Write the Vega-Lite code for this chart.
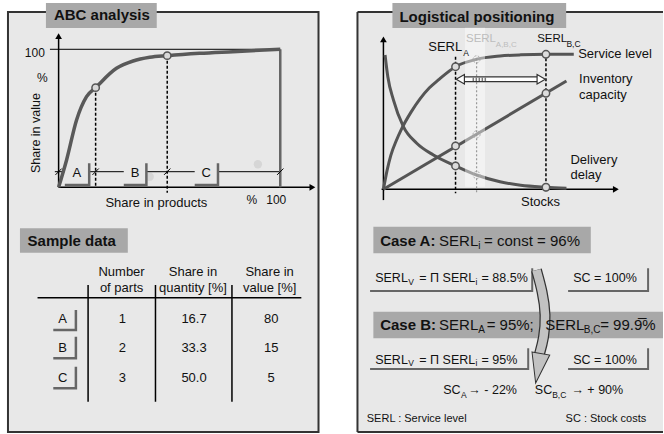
{
"$schema":"https://vega.github.io/schema/vega-lite/v6.json",
"width":664,"height":434,"autosize":{"type":"fit","contains":"padding"},"padding":0,"background":"white",
"resolve":{"scale":{"x":"independent","y":"independent"}},
"layer":[
{
"encoding":{
 "x":{"field":"x","type":"quantitative","scale":{"domain":[-26.44,272.66],"nice":false,"zero":false},"axis":null},
 "y":{"field":"y","type":"quantitative","scale":{"domain":[-178.77,135.72],"nice":false,"zero":false},"axis":null}
},
"layer":[
 {"data":{"values":[{"x":-22.84,"x2":117.25,"y":127.03,"y2":-177.32}]},"mark":{"type":"rect","fill":"#e8e8e8","stroke":"#333","strokeWidth":2},"encoding":{"x2":{"field":"x2"},"y2":{"field":"y2"}}},
 {"data":{"values":[{"x":-5.72,"x2":44.28,"y":133.55,"y2":115.43},{"x":-17.43,"x2":31.22,"y":-29.71,"y2":-47.39}]},"mark":{"type":"rect","fill":"#a8a8a8"},"encoding":{"x2":{"field":"x2"},"y2":{"field":"y2"}}},
 {"data":{"values":[{"x":41.1,"y":7.7},{"x":89.9,"y":16.7}]},"mark":{"type":"point","filled":true,"color":"#d6d6d6","size":70,"opacity":1}},
 {"data":{"values":[{"x":0,"y":0,"x2":0,"y2":109},{"x":0,"y":0,"x2":114,"y2":0},{"x":-9.5,"y":-80,"x2":109.5,"y2":-80},{"x":13.3,"y":-70.8,"x2":13.3,"y2":-155.4},{"x":43.7,"y":-70.8,"x2":43.7,"y2":-155.4},{"x":78.2,"y":-70.8,"x2":78.2,"y2":-155.4}]},"mark":{"type":"rule","color":"#000","strokeWidth":1.5},"encoding":{"x2":{"field":"x2"},"y2":{"field":"y2"}}},
 {"data":{"values":[{"x":-3.9,"y":100,"x2":100,"y2":100},{"x":-1.7,"y":11.3,"x2":2.8,"y2":11.3},{"x":13.8,"y":11.3,"x2":29.4,"y2":11.3},{"x":39.6,"y":11.3,"x2":61.4,"y2":11.3},{"x":71.9,"y":11.3,"x2":100,"y2":11.3}]},"mark":{"type":"rule","color":"#000","strokeWidth":1},"encoding":{"x2":{"field":"x2"},"y2":{"field":"y2"}}},
 {"data":{"values":[{"x":100,"y":100,"x2":100,"y2":0}]},"mark":{"type":"rule","color":"#666","strokeWidth":2.5},"encoding":{"x2":{"field":"x2"},"y2":{"field":"y2"}}},
 {"data":{"values":[{"x":0,"y":109.5}]},"mark":{"type":"point","shape":"triangle-up","filled":true,"color":"#000","size":45,"opacity":1}},
 {"data":{"values":[{"x":114.5,"y":0}]},"mark":{"type":"point","shape":"triangle-right","filled":true,"color":"#000","size":45,"opacity":1}},
 {"data":{"values":[{"x":16.7,"y":72.2,"x2":16.7,"y2":0},{"x":49,"y":95.4,"x2":49,"y2":-4}]},"mark":{"type":"rule","color":"#000","strokeWidth":1.5,"strokeDash":[3,2]},"encoding":{"x2":{"field":"x2"},"y2":{"field":"y2"}}},
 {"data":{"values":[{"x":0,"y":0},{"x":3.6,"y":19.8},{"x":8.1,"y":48.8},{"x":12.6,"y":65.7},{"x":16.7,"y":72.2},{"x":26.1,"y":86.2},{"x":33.6,"y":91.5},{"x":41.1,"y":94.2},{"x":49,"y":95.4},{"x":63.6,"y":97.1},{"x":78.6,"y":98.3},{"x":100,"y":100}]},"mark":{"type":"line","color":"#595959","strokeWidth":3.5,"interpolate":"monotone"}},
 {"data":{"values":[{"x":16.7,"y":72.2},{"x":49,"y":95.4}]},"mark":{"type":"point","filled":true,"fill":"#d9d9d9","stroke":"#555","strokeWidth":1.5,"size":55,"opacity":1}},
 {"data":{"values":[{"x":0,"y":11.3},{"x":16.7,"y":11.3},{"x":49,"y":11.3},{"x":100,"y":11.3}]},"mark":{"type":"point","shape":"M -1 1 L 1 -1","filled":false,"stroke":"#000","strokeWidth":1,"size":40,"opacity":1}},
 {"data":{"values":[
  {"b":"A","o":1,"x":13.8,"y":17.4},{"b":"A","o":2,"x":13.8,"y":1.7},{"b":"A","o":3,"x":2.8,"y":1.7},
  {"b":"B","o":1,"x":39.6,"y":17.4},{"b":"B","o":2,"x":39.6,"y":1.7},{"b":"B","o":3,"x":29.4,"y":1.7},
  {"b":"C","o":1,"x":71.9,"y":17.4},{"b":"C","o":2,"x":71.9,"y":1.7},{"b":"C","o":3,"x":61.4,"y":1.7},
  {"b":"rA","o":1,"x":7.8,"y":-89.0},{"b":"rA","o":2,"x":7.8,"y":-103.4},{"b":"rA","o":3,"x":-2.4,"y":-103.4},
  {"b":"rB","o":1,"x":7.8,"y":-108.3},{"b":"rB","o":2,"x":7.8,"y":-123.9},{"b":"rB","o":3,"x":-2.4,"y":-123.9},
  {"b":"rC","o":1,"x":7.8,"y":-130},{"b":"rC","o":2,"x":7.8,"y":-145.7},{"b":"rC","o":3,"x":-2.4,"y":-145.7}
 ]},"mark":{"type":"line","color":"#666","strokeWidth":2.5},"encoding":{"detail":{"field":"b"},"order":{"field":"o","type":"quantitative"}}},
 {"data":{"values":[{"x":-2.1,"y":124.5,"t":"ABC analysis"},{"x":-14.0,"y":-38.8,"t":"Sample data"}]},"mark":{"type":"text","align":"left","baseline":"middle","fontSize":15,"fontWeight":"bold"},"encoding":{"text":{"field":"t"}}},
 {"data":{"values":[{"x":-6.2,"y":97,"t":"100"}]},"mark":{"type":"text","align":"right","baseline":"middle","fontSize":12},"encoding":{"text":{"field":"t"}}},
 {"data":{"values":[{"x":-7.3,"y":79,"t":"%"},{"x":87.2,"y":-9.2,"t":"%"},{"x":98.2,"y":-9.2,"t":"100"}]},"mark":{"type":"text","align":"center","baseline":"middle","fontSize":12},"encoding":{"text":{"field":"t"}}},
 {"data":{"values":[{"x":-10.4,"y":39.3,"t":"Share in value"}]},"mark":{"type":"text","align":"center","baseline":"middle","fontSize":12.5,"angle":270},"encoding":{"text":{"field":"t"}}},
 {"data":{"values":[
  {"x":44.1,"y":-11.2,"t":"Share in products"},{"x":8.2,"y":10.6,"t":"A"},{"x":34.5,"y":10.6,"t":"B"},{"x":66.6,"y":10.6,"t":"C"},
  {"x":28.4,"y":-61.6,"t":"Number"},{"x":28.4,"y":-73.2,"t":"of parts"},{"x":60.6,"y":-61.6,"t":"Share in"},{"x":60.6,"y":-73.2,"t":"quantity [%]"},{"x":95.2,"y":-61.6,"t":"Share in"},{"x":95.2,"y":-73.2,"t":"value [%]"},
  {"x":1.8,"y":-95.4,"t":"A"},{"x":1.8,"y":-116.2,"t":"B"},{"x":1.8,"y":-138.4,"t":"C"},
  {"x":28.8,"y":-95.4,"t":"1"},{"x":61.1,"y":-95.4,"t":"16.7"},{"x":95.9,"y":-95.4,"t":"80"},
  {"x":28.8,"y":-116.2,"t":"2"},{"x":61.1,"y":-116.2,"t":"33.3"},{"x":95.9,"y":-116.2,"t":"15"},
  {"x":28.8,"y":-138.4,"t":"3"},{"x":61.1,"y":-138.4,"t":"50.0"},{"x":95.9,"y":-138.4,"t":"5"}
 ]},"mark":{"type":"text","align":"center","baseline":"middle","fontSize":13},"encoding":{"text":{"field":"t"}}}
]
},
{
"encoding":{
 "x":{"field":"x","type":"quantitative","scale":{"domain":[-209.49,152.75],"nice":false,"zero":false},"axis":null},
 "y":{"field":"y","type":"quantitative","scale":{"domain":[-181.26,140.22],"nice":false,"zero":false},"axis":null}
},
"layer":[
 {"data":{"values":[{"x":-14.18,"x2":152.75,"y":131.33,"y2":-179.78}]},"mark":{"type":"rect","fill":"#e8e8e8"},"encoding":{"x2":{"field":"x2"},"y2":{"field":"y2"}}},
 {"data":{"values":[{"x":-14.18,"y":131.33,"x2":152.75,"y2":131.33},{"x":-14.18,"y":131.33,"x2":-14.18,"y2":-179.78},{"x":-14.18,"y":-179.78,"x2":152.75,"y2":-179.78}]},"mark":{"type":"rule","color":"#333","strokeWidth":2},"encoding":{"x2":{"field":"x2"},"y2":{"field":"y2"}}},
 {"data":{"values":[{"x":4.91,"x2":99.84,"y":138,"y2":119.5},{"x":-5.5,"x2":113.3,"y":-27.7,"y2":-47.4},{"x":-5.5,"x2":152.75,"y":-90.7,"y2":-110.4}]},"mark":{"type":"rect","fill":"#a8a8a8"},"encoding":{"x2":{"field":"x2"},"y2":{"field":"y2"}}},
 {"data":{"values":[{"x":0,"y":-8,"x2":0,"y2":110},{"x":-1,"y":0,"x2":126,"y2":0}]},"mark":{"type":"rule","color":"#000","strokeWidth":1.5},"encoding":{"x2":{"field":"x2"},"y2":{"field":"y2"}}},
 {"data":{"values":[{"x":0,"y":111}]},"mark":{"type":"point","shape":"triangle-up","filled":true,"color":"#000","size":45,"opacity":1}},
 {"data":{"values":[{"x":127,"y":0}]},"mark":{"type":"point","shape":"triangle-right","filled":true,"color":"#000","size":45,"opacity":1}},
 {"data":{"values":[{"x":39.4,"y":98.2,"x2":39.4,"y2":-3},{"x":88.8,"y":97,"x2":88.8,"y2":-3}]},"mark":{"type":"rule","color":"#000","strokeWidth":1.5,"strokeDash":[3,2]},"encoding":{"x2":{"field":"x2"},"y2":{"field":"y2"}}},
 {"data":{"values":[
  {"s":"service","x":0,"y":0},{"s":"service","x":2,"y":14},{"s":"service","x":4,"y":25},{"s":"service","x":7,"y":36},{"s":"service","x":10,"y":45},{"s":"service","x":15,"y":57},{"s":"service","x":20,"y":67},{"s":"service","x":25,"y":75},{"s":"service","x":30,"y":81},{"s":"service","x":39.4,"y":90.8},{"s":"service","x":50.9,"y":96.3},{"s":"service","x":63.7,"y":98.7},{"s":"service","x":75,"y":99.6},{"s":"service","x":88.8,"y":100},{"s":"service","x":104,"y":100},
  {"s":"inventory","x":0,"y":0},{"s":"inventory","x":100,"y":80.2},
  {"s":"delay","x":0.9,"y":99.5},{"s":"delay","x":2.4,"y":83.4},{"s":"delay","x":5.5,"y":66.1},{"s":"delay","x":10.9,"y":46.4},{"s":"delay","x":18.2,"y":34.1},{"s":"delay","x":27.3,"y":25.4},{"s":"delay","x":39.4,"y":17.3},{"s":"delay","x":50.9,"y":10.6},{"s":"delay","x":63.7,"y":5.6},{"s":"delay","x":75,"y":3},{"s":"delay","x":88.8,"y":1.5},{"s":"delay","x":100,"y":0.7}
 ]},"mark":{"type":"line","color":"#555","strokeWidth":3,"interpolate":"monotone"},"encoding":{"detail":{"field":"s"}}},
 {"data":{"values":[{"x":44.6,"x2":55.5,"y":119.7,"y2":1.9}]},"mark":{"type":"rect","fill":"#ffffff","opacity":0.45},"encoding":{"x2":{"field":"x2"},"y2":{"field":"y2"}}},
 {"data":{"values":[{"x":50.9,"y":97,"x2":50.9,"y2":-3}]},"mark":{"type":"rule","color":"#999","strokeWidth":1.2,"strokeDash":[2,2]},"encoding":{"x2":{"field":"x2"},"y2":{"field":"y2"}}},
 {"data":{"values":[{"x":39.4,"y":90.8},{"x":88.8,"y":100},{"x":39.4,"y":32.1},{"x":88.8,"y":71.1},{"x":39.4,"y":17.3},{"x":88.8,"y":1.5}]},"mark":{"type":"point","filled":true,"fill":"#dcdcdc","stroke":"#555","strokeWidth":1.5,"size":55,"opacity":1}},
 {"data":{"values":[{"x":50.9,"y":96.3},{"x":50.9,"y":40.7},{"x":50.9,"y":10.6}]},"mark":{"type":"point","filled":false,"stroke":"#aaa","strokeWidth":1,"strokeDash":[2,1.5],"size":50,"opacity":1}},
 {"data":{"values":[{"x":43,"y":81.5,"x2":85,"y2":81.5}]},"mark":{"type":"rule","color":"#333","strokeWidth":6},"encoding":{"x2":{"field":"x2"},"y2":{"field":"y2"}}},
 {"data":{"values":[{"x":43,"y":81.5,"x2":85,"y2":81.5}]},"mark":{"type":"rule","color":"#fff","strokeWidth":3.5},"encoding":{"x2":{"field":"x2"},"y2":{"field":"y2"}}},
 {"data":{"values":[{"x":48.7,"y":81.5,"x2":56.4,"y2":81.5}]},"mark":{"type":"rule","color":"#777","strokeWidth":3.5,"strokeDash":[1.5,1.5]},"encoding":{"x2":{"field":"x2"},"y2":{"field":"y2"}}},
 {"data":{"values":[{"x":42,"y":81.5}]},"mark":{"type":"point","shape":"triangle-left","filled":true,"fill":"#fff","stroke":"#333","strokeWidth":1.2,"size":90,"opacity":1}},
 {"data":{"values":[{"x":86.2,"y":81.5}]},"mark":{"type":"point","shape":"triangle-right","filled":true,"fill":"#fff","stroke":"#333","strokeWidth":1.2,"size":90,"opacity":1}},
 {"data":{"values":[
  {"b":"1","o":1,"x":81.3,"y":-58.5},{"b":"1","o":2,"x":81.3,"y":-75.3},{"b":"1","o":3,"x":-7.3,"y":-75.3},
  {"b":"2","o":1,"x":144.6,"y":-58.5},{"b":"2","o":2,"x":144.6,"y":-75.3},{"b":"2","o":3,"x":100.9,"y":-75.3},
  {"b":"3","o":1,"x":79.1,"y":-117.8},{"b":"3","o":2,"x":79.1,"y":-133.1},{"b":"3","o":3,"x":-7.3,"y":-133.1},
  {"b":"4","o":1,"x":144.6,"y":-117.8},{"b":"4","o":2,"x":144.6,"y":-133.1},{"b":"4","o":3,"x":100.9,"y":-133.1}
 ]},"mark":{"type":"line","color":"#666","strokeWidth":2},"encoding":{"detail":{"field":"b"},"order":{"field":"o","type":"quantitative"}}},
 {"data":{"name":"bend","values":[{"o":1,"x":83.6,"y":-59.8},{"o":2,"x":86.9,"y":-75.8},{"o":3,"x":88.8,"y":-93.1},{"o":4,"x":87.7,"y":-110.4},{"o":5,"x":85.1,"y":-122.7}]},"mark":{"type":"line","color":"#333","strokeWidth":11,"interpolate":"basis","strokeCap":"butt"},"encoding":{"order":{"field":"o","type":"quantitative"}}},
 {"data":{"name":"bend"},"mark":{"type":"line","color":"#c2c2c2","strokeWidth":8.5,"interpolate":"basis","strokeCap":"butt"},"encoding":{"order":{"field":"o","type":"quantitative"}}},
 {"data":{"values":[{"x":84.6,"y":-132.6}]},"mark":{"type":"point","shape":"M -0.6 -1 L 0.6 -1 L 0 1 Z","angle":10,"filled":true,"fill":"#c2c2c2","stroke":"#333","strokeWidth":1,"size":900,"opacity":1}},
 {"data":{"values":[{"x":24.5,"y":105.6,"t":"SERL"},{"x":106.4,"y":100,"t":"Service level"},{"x":106.9,"y":81.7,"t":"Inventory"},{"x":106.9,"y":69.9,"t":"capacity"},{"x":102.2,"y":21.7,"t":"Delivery"},{"x":102.2,"y":10.6,"t":"delay"}]},"mark":{"type":"text","align":"left","baseline":"middle","fontSize":13,"clip":true},"encoding":{"text":{"field":"t"}}},
 {"data":{"values":[{"x":84.0,"y":111.1,"t":"SERL"}]},"mark":{"type":"text","align":"left","baseline":"middle","fontSize":11.5},"encoding":{"text":{"field":"t"}}},
 {"data":{"values":[{"x":45.1,"y":111.1,"t":"SERL"}]},"mark":{"type":"text","align":"left","baseline":"middle","fontSize":11.5,"color":"#bdbdbd"},"encoding":{"text":{"field":"t"}}},
 {"data":{"values":[{"x":61.4,"y":106.9,"t":"A,B,C"}]},"mark":{"type":"text","align":"left","baseline":"middle","fontSize":8,"color":"#bdbdbd"},"encoding":{"text":{"field":"t"}}},
 {"data":{"values":[{"x":85.8,"y":-9.2,"t":"Stocks"}]},"mark":{"type":"text","align":"center","baseline":"middle","fontSize":13},"encoding":{"text":{"field":"t"}}},
 {"data":{"values":[{"x":8.73,"y":127.4,"t":"Logistical positioning"},{"x":-1.8,"y":-38.3,"t":"Case A:"},{"x":-1.8,"y":-100.5,"t":"Case B:"}]},"mark":{"type":"text","align":"left","baseline":"middle","fontSize":15,"fontWeight":"bold"},"encoding":{"text":{"field":"t"}}},
 {"data":{"values":[{"x":30.4,"y":-38.3,"t":"SERL"},{"x":55.0,"y":-38.3,"t":"= const = 96%"},{"x":30.4,"y":-100.5,"t":"SERL"},{"x":56.4,"y":-100.5,"t":"= 95%;"},{"x":88.4,"y":-100.5,"t":"SERL"},{"x":118.4,"y":-100.5,"t":"= 99.9\u0305%"}]},"mark":{"type":"text","align":"left","baseline":"middle","fontSize":15,"clip":true},"encoding":{"text":{"field":"t"}}},
 {"data":{"values":[{"x":51.8,"y":-41.8,"t":"i"},{"x":51.8,"y":-104.2,"t":"A"},{"x":109.5,"y":-104.2,"t":"B,C"}]},"mark":{"type":"text","align":"left","baseline":"middle","fontSize":10},"encoding":{"text":{"field":"t"}}},
 {"data":{"values":[{"x":-4.5,"y":-65.9,"t":"SERL"},{"x":19.6,"y":-65.9,"t":"= Π SERL"},{"x":53.6,"y":-65.9,"t":"= 88.5%"},{"x":103.7,"y":-65.9,"t":"SC = 100%"},{"x":-4.5,"y":-126.4,"t":"SERL"},{"x":19.6,"y":-126.4,"t":"= Π SERL"},{"x":53.6,"y":-126.4,"t":"= 95%"},{"x":103.7,"y":-126.4,"t":"SC = 100%"},{"x":32.7,"y":-148.7,"t":"SC"},{"x":46.4,"y":-148.7,"t":"→ - 22%"},{"x":82.7,"y":-148.7,"t":"SC"},{"x":102.7,"y":-148.7,"t":"→ + 90%"}]},"mark":{"type":"text","align":"left","baseline":"middle","fontSize":12.5},"encoding":{"text":{"field":"t"}}},
 {"data":{"values":[{"x":43.6,"y":100.7,"t":"A"},{"x":100.0,"y":107.4,"t":"B,C"},{"x":13.6,"y":-68.4,"t":"V"},{"x":50.3,"y":-68.4,"t":"i"},{"x":13.6,"y":-128.9,"t":"V"},{"x":50.3,"y":-128.9,"t":"i"},{"x":42.4,"y":-152.4,"t":"A"},{"x":92.2,"y":-152.4,"t":"B,C"}]},"mark":{"type":"text","align":"left","baseline":"middle","fontSize":8.5},"encoding":{"text":{"field":"t"}}},
 {"data":{"values":[{"x":-9.1,"y":-170.1,"t":"SERL : Service level"}]},"mark":{"type":"text","align":"left","baseline":"middle","fontSize":11},"encoding":{"text":{"field":"t"}}},
 {"data":{"values":[{"x":143.6,"y":-170.1,"t":"SC : Stock costs"}]},"mark":{"type":"text","align":"right","baseline":"middle","fontSize":11},"encoding":{"text":{"field":"t"}}}
]
}
],
"config":{"font":"Liberation Sans","view":{"stroke":null},"text":{"color":"#111"}}
}
